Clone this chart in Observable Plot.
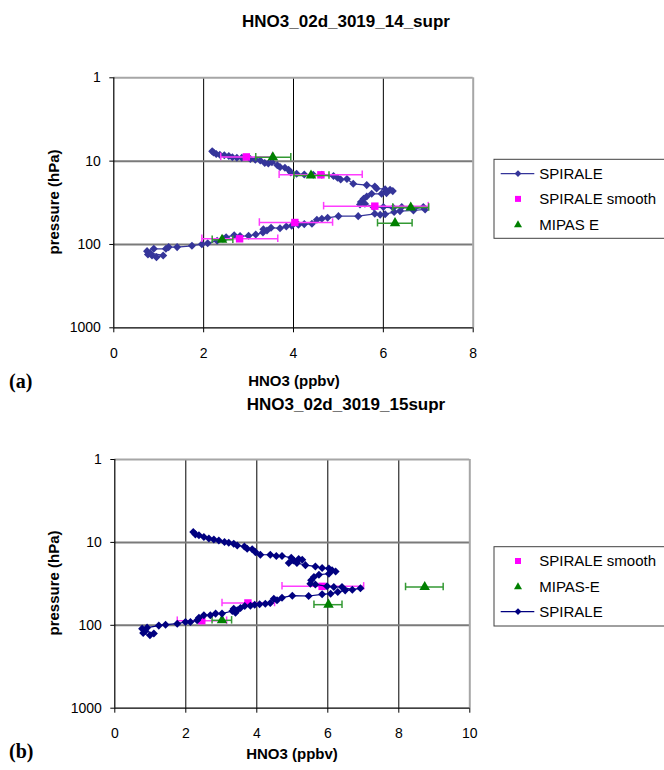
<!DOCTYPE html>
<html>
<head>
<meta charset="utf-8">
<script src="https://cdn.jsdelivr.net/npm/d3@7"></script>
<script src="https://cdn.jsdelivr.net/npm/@observablehq/plot@0.6"></script>
<style>
  body { margin: 0; background: #fff; }
  #root { position: relative; width: 664px; height: 770px; overflow: hidden; background: #fff; }
  #root > svg { position: absolute; }
  #overlay { left: 0; top: 0; pointer-events: none; }
</style>
</head>
<body>
<div id="root"></div>
<script>
// ---------------- DATA ----------------
// Panel (a): HNO3_02d_3019_14_supr
const titleA = "HNO3_02d_3019_14_supr";
const spiraleA_hno3 = [2.19,2.22,2.28,2.36,2.46,2.56,2.64,2.74,2.85,3.04,
  3.15,3.26,3.36,3.44,3.52,3.64,3.70,3.81,3.89,3.94,
  4.07,4.24,4.44,4.63,4.89,4.98,5.05,5.19,5.33,5.63,
  5.81,5.85,6.04,6.15,6.21,6.07,5.96,5.74,5.63,5.56,
  5.50,5.48,5.59,5.78,6.00,6.22,6.41,6.67,6.89,6.93,
  6.67,6.37,6.24,6.04,5.93,5.81,5.44,5.00,4.76,4.63,
  4.52,4.41,4.24,4.11,3.96,3.84,3.70,3.50,3.41,3.33,
  3.32,3.16,3.00,2.81,2.68,2.50,2.43,2.30,2.09,1.96,
  1.74,1.41,1.22,1.16,0.89,0.74,0.76,0.85,0.95,1.10,0.81];
const spiraleA_p = [7.6,7.9,8.2,8.4,8.5,8.7,9.0,9.1,9.1,9.4,
  9.6,9.8,10.5,10.7,10.3,11.2,11.8,12.0,12.7,13.7,
  14.2,14.5,14.6,14.6,15.1,15.8,16.6,16.4,18.7,19.4,
  20.1,21.3,21.7,22.1,22.9,24.2,24.7,24.7,26.5,28.3,
  31.0,33.1,32.5,35.6,35.6,36.3,35.6,37.7,35.6,38.0,
  39.1,39.8,40.9,43.3,44.1,42.9,45.7,45.7,47.9,49.2,
  50.6,56.5,57.0,58.1,59.7,60.8,63.7,63.1,67.9,65.5,
  71.8,75.9,78.7,79.4,77.3,81.7,85.5,90.4,96.4,99.1,
  103.7,107.6,107.6,112.7,112.7,120.2,131.8,135.5,141.9,135.5,127.1];
const smoothA_hno3 = [2.95, 4.61, 5.81, 4.03, 2.80];
const smoothA_p    = [8.9, 14.6, 34.7, 54.5, 85.5];
const smoothA_lo   = [2.38, 3.68, 4.67, 3.24, 1.96];
const smoothA_hi   = [3.52, 5.53, 7.00, 4.87, 3.65];
const mipasA_hno3  = [3.54, 4.39, 6.61, 6.26, 2.41];
const mipasA_p     = [9.0, 14.9, 36.0, 55.5, 87.9];
const mipasA_lo    = [3.16, 4.01, 6.21, 5.87, 2.19];
const mipasA_hi    = [3.94, 4.79, 7.01, 6.64, 2.65];
const legendA = ["SPIRALE", "SPIRALE smooth", "MIPAS E"];

// Panel (b): HNO3_02d_3019_15supr
const titleB = "HNO3_02d_3019_15supr";
const spiraleB_hno3 = [2.21,2.27,2.37,2.51,2.65,2.79,2.93,3.09,3.21,3.35,
  3.45,3.65,3.73,3.87,3.96,4.10,4.38,4.55,4.71,4.97,
  5.04,5.18,5.28,4.90,5.13,5.37,5.65,5.84,6.03,6.12,
  6.22,6.03,5.75,5.61,5.53,5.51,5.65,5.98,6.17,6.40,
  6.69,6.92,6.49,6.28,6.08,5.84,5.46,5.00,4.71,4.57,
  4.48,4.38,4.24,4.08,3.94,3.82,3.66,3.54,3.45,3.35,
  3.40,3.31,3.02,2.84,2.69,2.51,2.37,2.32,2.13,1.99,
  1.76,1.43,1.24,0.91,0.77,0.80,0.99,1.10,0.86];
const spiraleB_p = [7.5,8.0,8.2,8.6,9.0,9.2,9.5,9.9,10.1,10.4,
  10.9,11.2,11.9,12.1,13.1,14.1,14.1,14.6,14.6,15.3,
  16.5,15.9,16.2,17.7,17.7,18.8,19.5,20.4,20.7,21.7,
  22.4,23.9,24.5,26.2,28.7,31.5,32.1,33.9,34.5,34.5,
  37.2,35.8,37.9,39.7,41.5,42.3,44.3,43.9,46.4,50.0,
  47.7,53.8,54.8,55.8,56.4,58.0,58.5,61.8,65.9,63.0,
  70.4,67.2,72.3,72.3,75.8,75.8,80.9,87.1,91.2,91.2,
  95.5,98.2,100.9,106.7,109.7,123.7,131.9,125.9,116.9];
const smoothB_hno3 = [5.84, 3.75, 2.45];
const smoothB_p    = [33.9, 53.8, 88.0];
const smoothB_lo   = [4.71, 3.02, 1.76];
const smoothB_hi   = [7.01, 4.50, 3.15];
const mipasB_hno3  = [8.73, 6.02, 3.02];
const mipasB_p     = [34.5, 56.4, 87.1];
const mipasB_lo    = [8.19, 5.61, 2.74];
const mipasB_hi    = [9.25, 6.40, 3.29];
const legendB = ["SPIRALE smooth", "MIPAS-E", "SPIRALE"];

const pressureTicks = [1, 10, 100, 1000];
const xTicksA = [0, 2, 4, 6, 8];
const xTicksB = [0, 2, 4, 6, 8, 10];
const xLabel = "HNO3 (ppbv)";
const yLabel = "pressure (hPa)";

// ---------------- HELPERS ----------------
const FONT = "'Liberation Sans', Arial, sans-serif";
const MAG = "#ff00ff", MAGBAR = "#ff3cff", GRN = "#008000", GRNBAR = "#339933";

const diamond = {
  draw(ctx, size) {
    const s = Math.sqrt(size / 2);
    ctx.moveTo(0, -s); ctx.lineTo(s, 0); ctx.lineTo(0, s); ctx.lineTo(-s, 0); ctx.closePath();
  }
};

function rows(xs, ps, lo, hi) {
  return xs.map((x, i) => ({x, p: ps[i], lo: lo ? lo[i] : null, hi: hi ? hi[i] : null}));
}

function errMarks(data, color) {
  const cap = 1.11;
  return [
    Plot.link(data, {x1: "lo", x2: "hi", y1: "p", y2: "p", stroke: color, strokeWidth: 1.5}),
    Plot.ruleX(data, {x: "lo", y1: d => d.p / cap, y2: d => d.p * cap, stroke: color, strokeWidth: 1.5}),
    Plot.ruleX(data, {x: "hi", y1: d => d.p / cap, y2: d => d.p * cap, stroke: color, strokeWidth: 1.5})
  ];
}

function panel(cfg) {
  const spiral = rows(cfg.sx, cfg.sp);
  const smooth = rows(cfg.mx, cfg.mp, cfg.mlo, cfg.mhi);
  const mipas = rows(cfg.gx, cfg.gp, cfg.glo, cfg.ghi);
  const xmax = cfg.xticks[cfg.xticks.length - 1];
  const spiralMarks = [
    Plot.line(spiral, {x: "x", y: "p", stroke: cfg.blue, strokeWidth: 1.2}),
    Plot.dot(spiral, {x: "x", y: "p", symbol: diamond, r: 3.2, fill: cfg.blue, stroke: "none"})
  ];
  const smoothMarks = [
    ...errMarks(smooth, MAGBAR),
    Plot.dot(smooth, {x: "x", y: "p", symbol: "square", r: 4.2, fill: MAG, stroke: "none"})
  ];
  const mipasMarks = [
    ...errMarks(mipas, GRNBAR),
    Plot.dot(mipas, {x: "x", y: "p", symbol: "triangle", r: 3.9, fill: GRN, stroke: "none"})
  ];
  const order = cfg.order.map(k => ({spiral: spiralMarks, smooth: smoothMarks, mipas: mipasMarks})[k]).flat();
  const svg = Plot.plot({
    width: cfg.width, height: cfg.height,
    marginLeft: cfg.ml, marginRight: cfg.mr, marginTop: cfg.mt, marginBottom: cfg.mb,
    x: {domain: [0, xmax]},
    y: {type: "log", domain: [1, 1000], reverse: true},
    style: {fontFamily: FONT, fontSize: "14px", background: "transparent", color: "#000", overflow: "visible"},
    marks: [
      Plot.ruleX(cfg.xticks.slice(1, -1), {stroke: "#000", strokeWidth: 1}),
      Plot.ruleY([10, 100], {stroke: "#7a7a7a", strokeWidth: 2}),
      Plot.ruleY([1], {stroke: "#a6a6a6", strokeWidth: 2}),
      Plot.ruleX([xmax], {stroke: "#a6a6a6", strokeWidth: 2}),
      Plot.ruleX([0], {stroke: "#000", strokeWidth: 1.2}),
      Plot.ruleY([1000], {stroke: "#000", strokeWidth: 1.2}),
      Plot.axisX({ticks: cfg.xticks, tickFormat: d => String(d), tickSize: 5, tickPadding: 15, label: null, fontSize: 14, stroke: "#000"}),
      Plot.axisY({ticks: pressureTicks, tickFormat: d => String(d), tickSize: 4, tickPadding: 9, label: null, fontSize: 14, stroke: "#000"}),
      ...order
    ]
  });
  svg.style.left = cfg.left + "px";
  svg.style.top = cfg.top + "px";
  return svg;
}

const root = document.getElementById("root");

root.appendChild(panel({
  left: 0, top: 60, width: 490, height: 320, ml: 113.3, mr: 17.3, mt: 17.3, mb: 52.7,
  xticks: xTicksA, blue: "#35359a",
  sx: spiraleA_hno3, sp: spiraleA_p,
  mx: smoothA_hno3, mp: smoothA_p, mlo: smoothA_lo, mhi: smoothA_hi,
  gx: mipasA_hno3, gp: mipasA_p, glo: mipasA_lo, ghi: mipasA_hi,
  order: ["spiral", "smooth", "mipas"]
}));

root.appendChild(panel({
  left: 0, top: 440, width: 490, height: 320, ml: 114.3, mr: 20.7, mt: 19, mb: 52.3,
  xticks: xTicksB, blue: "#000080",
  sx: spiraleB_hno3, sp: spiraleB_p,
  mx: smoothB_hno3, mp: smoothB_p, mlo: smoothB_lo, mhi: smoothB_hi,
  gx: mipasB_hno3, gp: mipasB_p, glo: mipasB_lo, ghi: mipasB_hi,
  order: ["smooth", "mipas", "spiral"]
}));

// ---------------- TEXT & LEGENDS (overlay) ----------------
const ov = d3.select(root).append("svg").attr("id", "overlay")
  .attr("width", 664).attr("height", 770).style("font-family", FONT);

function txt(s, x, y, o = {}) {
  const t = ov.append("text").attr("x", x).attr("y", y).text(s)
    .attr("font-size", o.size || 15).attr("font-weight", o.weight || "normal")
    .attr("text-anchor", o.anchor || "start").attr("fill", "#000");
  if (o.family) t.attr("font-family", o.family);
  if (o.rotate) t.attr("transform", `rotate(-90 ${x} ${y})`);
  return t;
}

// titles
txt(titleA, 346, 27, {size: 17, weight: "bold", anchor: "middle"});
txt(titleB, 346, 410, {size: 17, weight: "bold", anchor: "middle"});
// axis labels
txt(xLabel, 294, 386, {size: 15, weight: "bold", anchor: "middle"});
txt(xLabel, 292, 759, {size: 15, weight: "bold", anchor: "middle"});
txt(yLabel, 58.5, 202, {size: 15, weight: "bold", anchor: "middle", rotate: true});
txt(yLabel, 58.5, 583, {size: 15, weight: "bold", anchor: "middle", rotate: true});
// panel tags
txt("(a)", 9, 388, {size: 20, weight: "bold", family: "'Liberation Serif', 'Times New Roman', serif"});
txt("(b)", 9, 758, {size: 20, weight: "bold", family: "'Liberation Serif', 'Times New Roman', serif"});

function legend(x, y, h, entries, labels, blue) {
  ov.append("rect").attr("x", x).attr("y", y).attr("width", 220).attr("height", h)
    .attr("fill", "#fff").attr("stroke", "#404040").attr("stroke-width", 1);
  entries.forEach((k, i) => {
    const cy = y + 14.3 + i * 25.3;
    const cx = x + 24;
    if (k === "spiral") {
      ov.append("line").attr("x1", x + 6.7).attr("x2", x + 40.3).attr("y1", cy).attr("y2", cy)
        .attr("stroke", blue).attr("stroke-width", 1.2);
      ov.append("path").attr("d", `M${cx},${cy - 3.4}L${cx + 3.4},${cy}L${cx},${cy + 3.4}L${cx - 3.4},${cy}Z`).attr("fill", blue);
    } else if (k === "smooth") {
      ov.append("rect").attr("x", cx - 3).attr("y", cy - 3).attr("width", 6).attr("height", 6).attr("fill", MAG);
    } else {
      ov.append("path").attr("d", `M${cx},${cy - 4}L${cx + 4},${cy + 3}L${cx - 4},${cy + 3}Z`).attr("fill", GRN);
    }
    txt(labels[i], x + 45.3, cy + 5.4, {size: 15});
  });
}
legend(494, 159.3, 79, ["spiral", "smooth", "mipas"], legendA, "#35359a");
legend(494, 546.7, 79.3, ["smooth", "mipas", "spiral"], legendB, "#000080");
</script>
</body>
</html>
